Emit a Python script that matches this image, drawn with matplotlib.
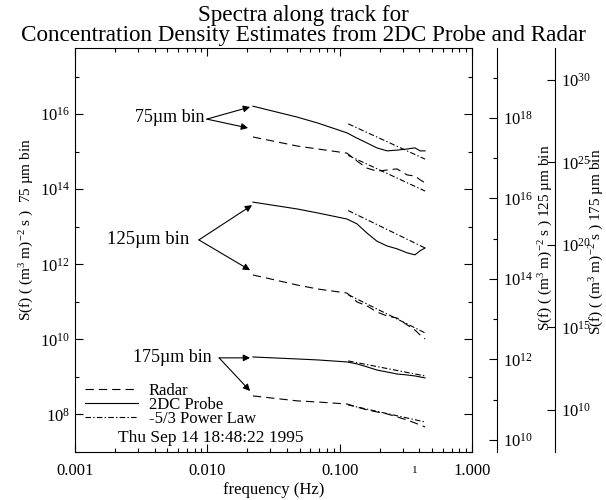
import numpy as np
import matplotlib
matplotlib.use('Agg')
import matplotlib.pyplot as plt
from matplotlib.lines import Line2D

plt.rcParams['font.family'] = ['Liberation Serif', 'DejaVu Serif']
plt.rcParams['mathtext.fontset'] = 'custom'
plt.rcParams['mathtext.rm'] = 'Liberation Serif'
plt.rcParams['mathtext.it'] = 'Liberation Serif:italic'
plt.rcParams['mathtext.bf'] = 'Liberation Serif:bold'
plt.rcParams['lines.scale_dashes'] = False

# frequencies (Hz) of the spectral estimates
freq = [0.0221, 0.0477, 0.0685, 0.1135, 0.135, 0.161, 0.191, 0.228,
        0.271, 0.323, 0.371, 0.405, 0.442]
# end points of the -5/3 power law reference lines
law_freq = [0.116, 0.442]

# log10 S(f)
probe_75 = [16.21, 15.92, 15.76, 15.50, 15.36, 15.23, 15.10, 15.02,
            15.04, 15.07, 15.10, 15.02, 15.02]
radar_75 = [15.39, 15.15, 15.07, 14.96, 14.75, 14.56, 14.48, 14.51,
            14.54, 14.38, 14.35, 14.25, 14.17]
law_probe_75 = [15.74, 14.80]
law_radar_75 = [14.90, 13.95]

probe_125 = [15.91, 15.74, 15.64, 15.49, 15.37, 15.14, 14.94, 14.82,
             14.75, 14.65, 14.60, 14.70, 14.77]
radar_125 = [14.10, 13.85, 13.75, 13.65, 13.43, 13.33, 13.18, 13.08,
             13.03, 12.86, 12.73, 12.61, 12.51]
law_probe_125 = [15.70, 14.77]
law_radar_125 = [13.61, 12.66]

probe_175 = [13.21, 13.09, 13.03, 12.91, 12.79, 12.61, 12.42, 12.30,
             12.18, 12.12, 12.06, 12.00, 11.94]
radar_175 = [10.85, 10.55, 10.48, 10.36, 10.18, 10.00, 9.88, 9.76,
             9.58, 9.39, 9.21, 9.09, 8.97]
law_probe_175 = [12.97, 12.06]
law_radar_175 = [10.30, 9.27]

x_ticks = [0.001, 0.01, 0.1, 1.0]
x_tick_labels = ['0.001', '0.010', '0.100', '1.000']

DASH = (0, (6, 3.6))
DASHDOT = (0, (4, 1.6, 1, 1.6))
LW = 0.8


def draw_bin(ax, probe, radar, law_probe, law_radar):
    ax.plot(freq, 10.0 ** np.array(probe), color='k', lw=LW)
    ax.plot(freq, 10.0 ** np.array(radar), color='k', lw=LW, ls=DASH)
    ax.plot(law_freq, 10.0 ** np.array(law_probe), color='k', lw=LW, ls=DASHDOT)
    ax.plot(law_freq, 10.0 ** np.array(law_radar), color='k', lw=LW, ls=DASHDOT)


def style_right(ax, offset, major, minor):
    ax.set_yscale('log')
    for side in ['left', 'top', 'bottom']:
        ax.spines[side].set_visible(False)
    ax.spines['right'].set_position(('outward', offset))
    ax.spines['right'].set_linewidth(0.8)
    ax.set_yticks(major)
    ax.set_yticks(minor, minor=True)
    ax.yaxis.set_minor_formatter(plt.NullFormatter())
    ax.tick_params(axis='y', which='major', direction='in', length=6, width=0.8,
                   labelsize=12, pad=4)
    ax.tick_params(axis='y', which='minor', direction='in', length=3, width=0.8)


fig = plt.figure(figsize=(6.06, 5.0), dpi=100)
ax = fig.add_axes([75 / 606, 48 / 500, 397 / 606, 404 / 500])
ax2 = ax.twinx()
ax3 = ax.twinx()

ax.set_xscale('log')
ax.set_yscale('log')
draw_bin(ax, probe_75, radar_75, law_probe_75, law_radar_75)
draw_bin(ax2, probe_125, radar_125, law_probe_125, law_radar_125)
draw_bin(ax3, probe_175, radar_175, law_probe_175, law_radar_175)

ax.set_xlim(0.001, 1.0)
ax.set_ylim(10 ** 7.0, 10 ** 17.76)
ax2.set_ylim(10 ** 9.70, 10 ** 19.74)
ax3.set_ylim(10 ** 7.45, 10 ** 31.94)

ax.set_xticks(x_ticks, x_tick_labels)
ax.set_yticks(10.0 ** np.arange(8, 17, 2))
ax.set_yticks(10.0 ** np.arange(7, 18, 2), minor=True)
ax.yaxis.set_minor_formatter(plt.NullFormatter())
for sp in ax.spines.values():
    sp.set_linewidth(0.8)
ax.tick_params(which='major', direction='in', length=6, width=0.8, labelsize=12,
               top=True, right=True)
ax.tick_params(which='minor', direction='in', length=3, width=0.8,
               top=True, right=True)
ax.tick_params(axis='x', pad=8)

style_right(ax2, 18, 10.0 ** np.arange(10, 19, 2), 10.0 ** np.arange(11, 20, 2))
style_right(ax3, 60, 10.0 ** np.arange(10, 31, 5), [])

ylab = r'S(f) ( (m$^3$ m)$^{-2}$ s ) %s µm bin'
ax.set_ylabel(ylab % ' 75', fontsize=11)
ax.yaxis.set_label_coords(-0.098, 0.55)
ax2.set_ylabel(ylab % '125', fontsize=11, rotation=90)
ax2.yaxis.set_label_coords(1.164, 0.53)
ax3.set_ylabel(ylab % '175', fontsize=11, rotation=90)
ax3.yaxis.set_label_coords(1.292, 0.52)
ax.set_xlabel('frequency (Hz)', fontsize=12)
ax.xaxis.set_label_coords(0.5, -0.075)

fig.text(0.5, 0.968, 'Spectra along track for', ha='center', va='center',
         fontsize=16.7)
fig.text(0.5, 0.930, 'Concentration Density Estimates from 2DC Probe and Radar',
         ha='center', va='center', fontsize=16.7)

arrow = dict(arrowstyle='-|>', color='k', lw=0.8, mutation_scale=10,
             shrinkA=0, shrinkB=0)
ax.text(0.239, 0.827, '75µm bin', transform=ax.transAxes, fontsize=13,
        ha='center', va='center')
for head in [(0.441, 0.854), (0.436, 0.802)]:
    ax.annotate('', xy=head, xytext=(0.332, 0.824), xycoords='axes fraction',
                textcoords='axes fraction', arrowprops=arrow)
ax.text(0.184, 0.525, '125µm bin', transform=ax.transAxes, fontsize=13.5,
        ha='center', va='center')
for head in [(0.446, 0.611), (0.441, 0.450)]:
    ax.annotate('', xy=head, xytext=(0.312, 0.525), xycoords='axes fraction',
                textcoords='axes fraction', arrowprops=arrow)
ax.text(0.244, 0.233, '175µm bin', transform=ax.transAxes, fontsize=13,
        ha='center', va='center')
for head in [(0.441, 0.233), (0.441, 0.151)]:
    ax.annotate('', xy=head, xytext=(0.363, 0.233), xycoords='axes fraction',
                textcoords='axes fraction', arrowprops=arrow)

handles = [Line2D([], [], color='k', lw=LW, ls=DASH),
           Line2D([], [], color='k', lw=LW),
           Line2D([], [], color='k', lw=LW, ls=DASHDOT)]
ax.legend(handles, ['Radar', '2DC Probe', '-5/3 Power Law'], loc='upper left',
          bbox_to_anchor=(0.025, 0.172), frameon=False, fontsize=12,
          borderpad=0, borderaxespad=0, handlelength=3.2, handletextpad=0.62,
          labelspacing=-0.1)

ax.text(0.108, 0.035, 'Thu Sep 14 18:48:22 1995', transform=ax.transAxes,
        fontsize=12.5, ha='left', va='center')
ax.text(0.856, -0.045, '1', transform=ax.transAxes, fontsize=8,
        ha='center', va='center')

fig.savefig('out.png', dpi=100)
